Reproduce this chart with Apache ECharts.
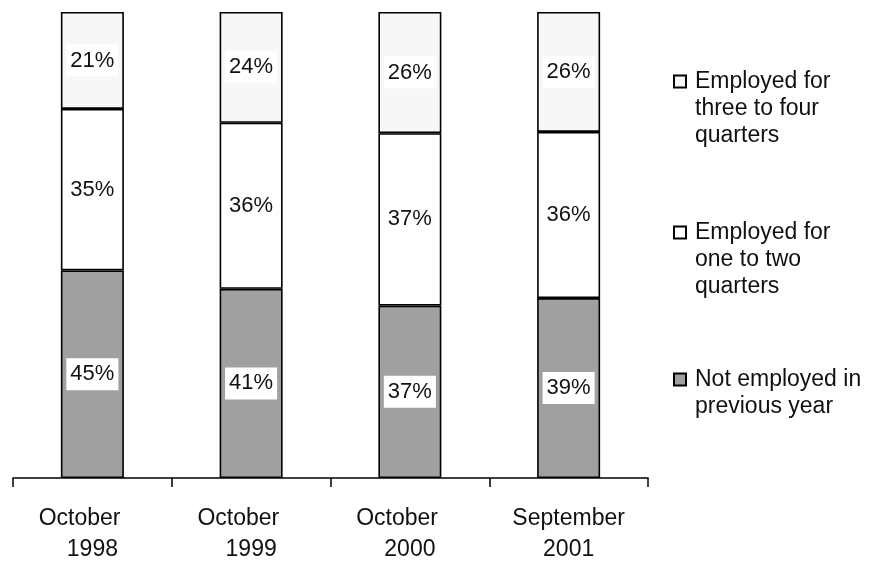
<!DOCTYPE html>
<html>
<head>
<meta charset="utf-8">
<script src="https://cdn.jsdelivr.net/npm/echarts@6/dist/echarts.min.js"></script>
<style>
html,body{margin:0;padding:0;background:#fff;}
#chart{width:871px;height:565px;}
</style>
</head>
<body>
<div id="chart"></div>
<script>
const categories = ['October 1998', 'October 1999', 'October 2000', 'September 2001'];
const tickLabels = ['October    \n1998', 'October    \n1999', 'October    \n2000', 'September\n2001'];
const notEmployed = [45, 41, 37, 39];
const oneToTwo = [35, 36, 37, 36];
const threeToFour = [21, 24, 26, 26];
const seriesNames = ['Not employed in\nprevious year', 'Employed for\none to two\nquarters', 'Employed for\nthree to four\nquarters'];

const FONT = '"Liberation Sans", Arial, sans-serif';
const totals = categories.map((c, i) => notEmployed[i] + oneToTwo[i] + threeToFour[i]);
function toData(arr) {
  return arr.map((v, i) => ({ value: v / totals[i] * 100, raw: v }));
}
const colors = ['#a0a0a0', '#ffffff', '#f7f7f7'];
const raws = [notEmployed, oneToTwo, threeToFour];

const series = raws.map((arr, k) => ({
  name: seriesNames[k],
  type: 'bar',
  stack: 'total',
  barWidth: 63,
  data: toData(arr),
  itemStyle: { color: colors[k], borderColor: '#000', borderWidth: 1.6 },
  label: {
    show: true,
    position: 'inside',
    formatter: p => p.data.raw + '%',
    color: '#111',
    fontFamily: FONT,
    fontSize: 22,
    backgroundColor: '#fff',
    padding: [5, 4, 5, 4]
  }
}));

const LH = 27;
const SQ = 12;
const legendTops = [68, 219, 366];
const legendOrder = [2, 1, 0];
const legends = legendOrder.map((k, j) => {
  const lines = seriesNames[k].split('\n').length;
  const h = SQ + (lines - 1) * LH;
  return {
    data: [seriesNames[k]],
    left: 673,
    top: legendTops[j],
    orient: 'vertical',
    padding: 0,
    itemWidth: SQ,
    itemHeight: h,
    itemGap: 0,
    selectedMode: false,
    icon: 'path://M0,0L' + SQ + ',0L' + SQ + ',' + SQ + 'L0,' + SQ + 'Z M0,0 M' + SQ + ',' + h,
    textStyle: {
      fontFamily: FONT,
      fontSize: 23,
      lineHeight: LH,
      color: '#111',
      padding: [0, 0, 0, 4]
    }
  };
});

const chart = echarts.init(document.getElementById('chart'), null, { renderer: 'canvas' });
chart.setOption({
  animation: false,
  backgroundColor: '#fff',
  grid: { left: 13, right: 223, top: 12, bottom: 80, containLabel: false },
  legend: legends,
  xAxis: {
    type: 'category',
    data: categories,
    axisLine: { lineStyle: { color: '#000', width: 1.5 } },
    axisTick: { show: true, length: 9, lineStyle: { color: '#000', width: 1.5 } },
    axisLabel: {
      margin: 25,
      interval: 0,
      fontFamily: FONT,
      fontSize: 23,
      lineHeight: 31,
      color: '#111',
      formatter: (v, i) => tickLabels[i]
    }
  },
  yAxis: {
    type: 'value',
    min: 0,
    max: 100,
    show: false,
    splitLine: { show: false }
  },
  series: series
});
</script>
</body>
</html>
